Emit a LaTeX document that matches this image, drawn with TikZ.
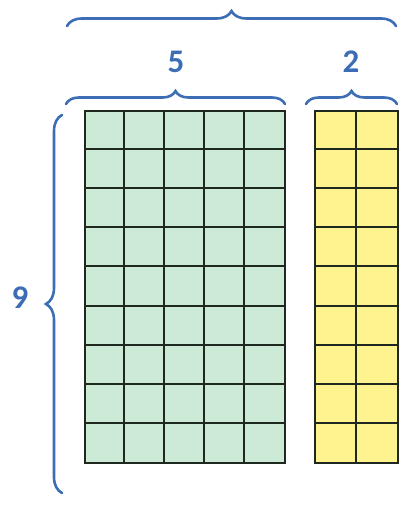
\documentclass[tikz,border=0pt]{standalone}
\usepackage{fontspec}
\setsansfont{Carlito}[BoldFont={Carlito Bold}]
\usetikzlibrary{decorations.pathreplacing, positioning}
\definecolor{cblue}{HTML}{3D6DB5}
\definecolor{cmint}{HTML}{CDEAD6}
\definecolor{cyell}{HTML}{FFF38F}
\definecolor{cgrid}{HTML}{1E281E}
\tikzset{
  every picture/.style={font=\sffamily},
  block/.style={draw=cgrid, fill=#1, line width=2pt, inner sep=0pt, anchor=north west},
  cellline/.style={draw=cgrid, line width=2pt},
  brace/.style={decorate, decoration={brace, amplitude=#1}, draw=cblue, line width=2.6pt, line cap=round},
  num/.style={font=\sffamily\bfseries\fontsize{33}{36}\selectfont, text=cblue},
}

\begin{document}
\begin{tikzpicture}[x=1pt, y=-1pt]
  \useasboundingbox (0,0) rectangle (411,505);

  % the two blocks
  \node[block=cmint, minimum width=200pt, minimum height=352pt] (five) at (84,110) {};
  \node[block=cyell, minimum width=83pt, minimum height=352pt] (two) at (314,110) {};
  \foreach \i in {1,...,4} \draw[cellline] (84+40*\i,110) -- (84+40*\i,462);
  \foreach \j in {1,...,8} \draw[cellline] (84,{110+352/9*\j}) -- (284,{110+352/9*\j});
  \draw[cellline] (355.5,110) -- (355.5,462);
  \foreach \j in {1,...,8} \draw[cellline] (314,{110+352/9*\j}) -- (397,{110+352/9*\j});

  % braces
  \coordinate (topl) at (67,26);
  \coordinate (topr) at (396,26);
  \coordinate (fivel) at (66,104);
  \coordinate (fiver) at (285,104);
  \coordinate (twol) at (306,104);
  \coordinate (twor) at (397,104);
  \coordinate (sideb) at (62,493);
  \coordinate (sidet) at (62,115);
  \draw[brace=15] (topl) -- (topr);
  \draw[brace=13] (fivel) -- (fiver);
  \draw[brace=13] (twol) -- (twor);
  \draw[brace=16] (sideb) -- (sidet);

  % labels
  \node[num] (lfive) at (176,62) {5};
  \node[num] (ltwo) at (351,62) {2};
  \node[num] (lnine) at (20,298) {9};
\end{tikzpicture}
\end{document}
